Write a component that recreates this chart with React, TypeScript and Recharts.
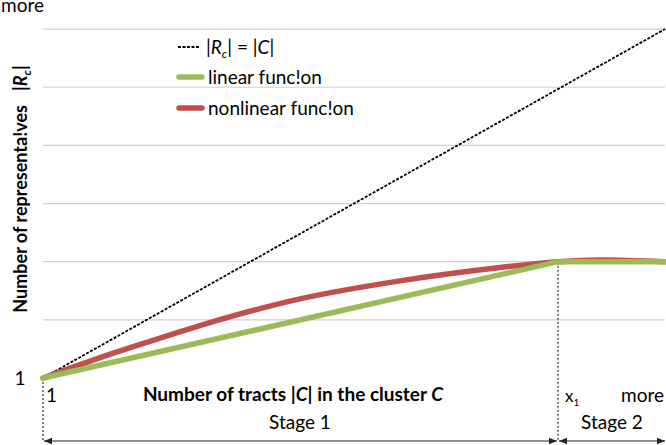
import { Line, LineChart, ReferenceLine, XAxis, YAxis } from 'recharts';

// identity line |Rc| = |C|
const identityX = [0, 100];
const identityY = [0, 6];

// linear function: grows until x1, then flat
const linearX = [0, 82.8, 100];
const linearY = [0, 2, 2];

// nonlinear function: concave until x1, then flat
const nonlinearX = [0, 9.2, 17.2, 25.2, 41.3, 57.4, 73.5, 82.8, 89.5, 100];
const nonlinearY = [0, 0.35, 0.63, 0.9, 1.36, 1.67, 1.9, 2.0, 2.03, 2.0];

const gridY = [1, 2, 3, 4, 5, 6];
const X1 = 82.8;

const toRows = (xs: number[], ys: number[]) => xs.map((x, i) => ({ x, y: ys[i] }));

const W = 666;
const H = 445;
const LEFT = 43;
const RIGHT = 1;
const BOTTOM = 67;
const plotW = W - LEFT - RIGHT;
const px = (x: number) => LEFT + (x / 100) * plotW;

const FONT = "Lato, 'Open Sans', sans-serif";
const FS = 19;
const GREEN = '#9bbb59';
const RED = '#c0504d';

const App = () => {
  const identity = toRows(identityX, identityY);
  const linear = toRows(linearX, linearY);
  const nonlinear = toRows(nonlinearX, nonlinearY);
  const x1px = px(X1);
  const arrowY = 441;

  return (
    <div style={{ position: 'absolute', left: 0, top: 0, width: W, height: H, background: '#fff', fontFamily: FONT }}>
      <LineChart width={W} height={H} data={identity} margin={{ top: 0, right: RIGHT, bottom: BOTTOM, left: LEFT }}>
        <XAxis
          type="number"
          dataKey="x"
          domain={[0, 100]}
          tick={false}
          height={0}
          axisLine={{ stroke: '#bdbdbd', strokeWidth: 1.2 }}
          tickLine={false}
        />
        <YAxis
          type="number"
          domain={[0, 6.5]}
          tick={false}
          width={0}
          axisLine={{ stroke: '#bdbdbd', strokeWidth: 1.2 }}
          tickLine={false}
        />
        {gridY.map((y) => (
          <ReferenceLine key={y} y={y} stroke="#d0d0d0" strokeWidth={1.2} />
        ))}
        <ReferenceLine
          segment={[{ x: X1, y: 2 }, { x: X1, y: -1.09 }]}
          stroke="#555"
          strokeWidth={1.5}
          strokeDasharray="2 2"
          ifOverflow="visible"
        />
        <ReferenceLine
          segment={[{ x: 0, y: 0 }, { x: 0, y: -1.09 }]}
          stroke="#555"
          strokeWidth={1.5}
          strokeDasharray="2 2"
          ifOverflow="visible"
        />
        <Line
          data={identity}
          dataKey="y"
          type="linear"
          stroke="#000"
          strokeWidth={1.8}
          strokeDasharray="3 1.5"
          dot={false}
          isAnimationActive={false}
        />
        <Line
          data={nonlinear}
          dataKey="y"
          type="monotone"
          stroke={RED}
          strokeWidth={5.5}
          strokeLinecap="round"
          dot={false}
          isAnimationActive={false}
        />
        <Line
          data={linear}
          dataKey="y"
          type="linear"
          stroke={GREEN}
          strokeWidth={5.5}
          strokeLinecap="round"
          dot={false}
          isAnimationActive={false}
        />
      </LineChart>

      <svg
        width={W}
        height={H}
        style={{ position: 'absolute', left: 0, top: 0, pointerEvents: 'none', fontFamily: FONT }}
      >
        <defs>
          <marker id="ah" viewBox="0 0 10 10" refX="10" refY="5" markerWidth="7" markerHeight="7" orient="auto-start-reverse">
            <path d="M0,1 L10,5 L0,9 z" fill="#222" />
          </marker>
        </defs>

        {/* legend */}
        <line x1={178} x2={200} y1={47} y2={47} stroke="#000" strokeWidth={1.8} strokeDasharray="3 1.5" />
        <text x={206} y={54} fontSize={FS} fill="#000">
          |<tspan fontStyle="italic">R</tspan>
          <tspan fontStyle="italic" fontSize={12} dy={4}>c</tspan>
          <tspan dy={-4}>| = |</tspan>
          <tspan fontStyle="italic">C</tspan>|
        </text>
        <line x1={179} x2={202} y1={77} y2={77} stroke={GREEN} strokeWidth={5.5} strokeLinecap="round" />
        <text x={208} y={84} fontSize={FS} fill="#000">linear func!on</text>
        <line x1={179} x2={202} y1={108} y2={108} stroke={RED} strokeWidth={5.5} strokeLinecap="round" />
        <text x={208} y={115} fontSize={FS} fill="#000">nonlinear func!on</text>

        {/* axis ends */}
        <text x={1} y={12} fontSize={FS} fill="#000">more</text>
        <text x={20} y={385} fontSize={FS} fill="#000" textAnchor="middle">1</text>
        <text x={46} y={402} fontSize={FS} fill="#000">1</text>
        <text x={664} y={402} fontSize={FS} fill="#000" textAnchor="end">more</text>
        <text x={x1px + 7} y={402} fontSize={17} fill="#000">
          x<tspan fontSize={10} dy={4}>1</tspan>
        </text>

        {/* axis titles */}
        <text x={293} y={401} fontSize={FS} fontWeight="bold" fill="#000" textAnchor="middle">
          Number of tracts |<tspan fontStyle="italic">C</tspan>| in the cluster <tspan fontStyle="italic">C</tspan>
        </text>
        <text
          transform="translate(27, 189) rotate(-90)"
          fontSize={18}
          fontWeight="bold"
          fill="#000"
          textAnchor="middle"
        >
          Number of representa!ves<tspan dx={14}>|</tspan>
          <tspan fontStyle="italic">R</tspan>
          <tspan fontStyle="italic" fontSize={12} dy={4}>c</tspan>
          <tspan dy={-4}>|</tspan>
        </text>

        {/* stages */}
        <line x1={LEFT + 1} x2={x1px - 1} y1={arrowY} y2={arrowY} stroke="#222" strokeWidth={1.2} markerStart="url(#ah)" markerEnd="url(#ah)" />
        <line x1={x1px + 1} x2={W - 1} y1={arrowY} y2={arrowY} stroke="#222" strokeWidth={1.2} markerStart="url(#ah)" markerEnd="url(#ah)" />
        <text x={300} y={429} fontSize={FS} fill="#000" textAnchor="middle">Stage 1</text>
        <text x={612} y={429} fontSize={FS} fill="#000" textAnchor="middle">Stage 2</text>
      </svg>
    </div>
  );
};

export default App;
